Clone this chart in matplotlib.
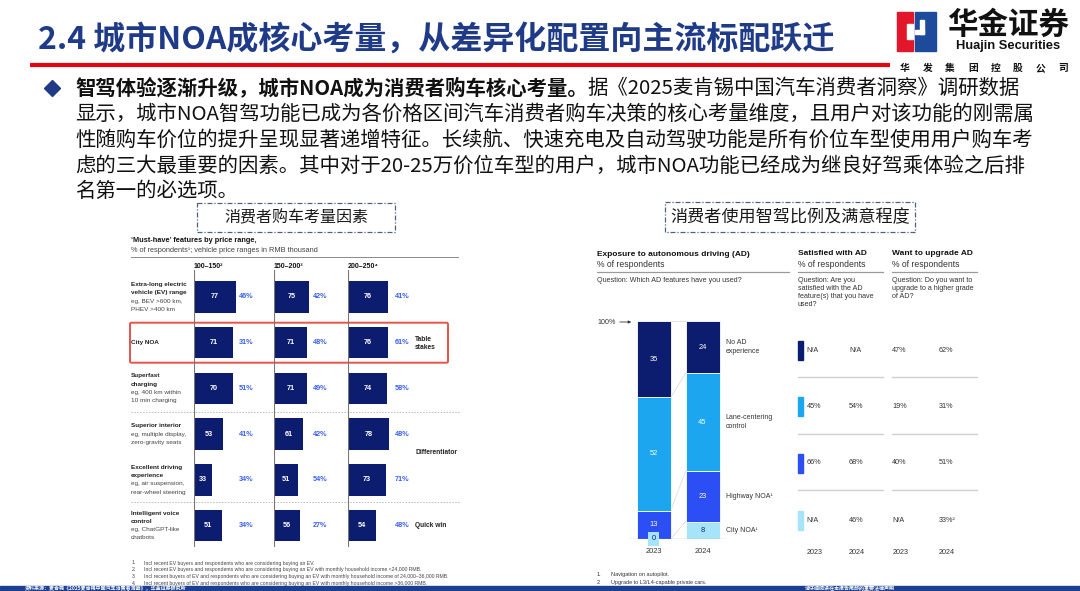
import matplotlib
matplotlib.use("Agg")
import matplotlib.pyplot as plt
from matplotlib.patches import Rectangle, FancyBboxPatch

# ---------------- data ----------------
slide_title = "2.4 城市NOA成核心考量，从差异化配置向主流标配跃迁"
bullet_lead = "智驾体验逐渐升级，城市NOA成为消费者购车核心考量。"
bullet_rest = "据《2025麦肯锡中国汽车消费者洞察》调研数据"
bullet_lines = [
    "显示，城市NOA智驾功能已成为各价格区间汽车消费者购车决策的核心考量维度，且用户对该功能的刚需属",
    "性随购车价位的提升呈现显著递增特征。长续航、快速充电及自动驾驶功能是所有价位车型使用用户购车考",
    "虑的三大最重要的因素。其中对于20-25万价位车型的用户，城市NOA功能已经成为继良好驾乘体验之后排",
    "名第一的必选项。",
]
left_box_title = "消费者购车考量因素"
right_box_title = "消费者使用智驾比例及满意程度"

left_chart_title = "‘Must-have’ features by price range,"
left_chart_sub = "% of respondents¹; vehicle price ranges in RMB thousand"
price_ranges = ["100–150²", "150–200³", "200–250⁴"]
feature_names = [["Extra-long electric", "vehicle (EV) range"], ["City NOA"],
                 ["Superfast", "charging"], ["Superior interior"],
                 ["Excellent driving", "experience"], ["Intelligent voice", "control"]]
feature_examples = [["eg, BEV >600 km,", "PHEV >400 km"], [],
                    ["eg, 400 km within", "10 min charging"],
                    ["eg, multiple display,", "zero-gravity seats"],
                    ["eg, air suspension,", "rear-wheel steering"],
                    ["eg, ChatGPT-like", "chatbots"]]
must_have_100_150 = [77, 71, 70, 53, 33, 51]
must_have_150_200 = [75, 71, 71, 61, 51, 56]
must_have_200_250 = [76, 76, 74, 78, 73, 54]
share_100_150 = ["46%", "31%", "51%", "41%", "34%", "34%"]
share_150_200 = ["42%", "48%", "49%", "42%", "54%", "27%"]
share_200_250 = ["41%", "61%", "58%", "48%", "71%", "48%"]
group_labels = ["Table\nstakes", "Differentiator", "Quick win"]
left_footnotes = [
    "Incl recent EV buyers and respondents who are considering buying an EV.",
    "Incl recent EV buyers and respondents who are considering buying an EV with monthly household income <24,000 RMB.",
    "Incl recent buyers of EV and respondents who are considering buying an EV with monthly household income of 24,000–36,000 RMB.",
    "Incl recent buyers of EV and respondents who are considering buying an EV with monthly household income >36,000 RMB.",
]

ad_years = ["2023", "2024"]
ad_features = ["City NOA¹", "Highway NOA¹", "Lane-centering\ncontrol", "No AD\nexperience"]
exposure_2023 = [0, 13, 52, 35]
exposure_2024 = [8, 23, 45, 24]
satisfied_2023 = ["N/A", "66%", "45%", "N/A"]
satisfied_2024 = ["46%", "68%", "54%", "N/A"]
upgrade_2023 = ["N/A", "40%", "19%", "47%"]
upgrade_2024 = ["33%²", "51%", "31%", "62%"]
right_footnotes = ["Navigation on autopilot.", "Upgrade to L3/L4-capable private cars."]

source_text = "资料来源：麦肯锡《2025麦肯锡中国汽车消费者洞察》，华金证券研究所"
disclaimer_text = "请仔细阅读在本报告尾部的重要法律声明"

# ---------------- style / layout ----------------
W, H, DPI = 1080, 591, 100
CJK = ["Noto Sans CJK SC", "DejaVu Sans"]
LAT = ["Liberation Sans", "DejaVu Sans"]
TITLE_BLUE = "#1F3B87"
NAVY = "#0C1D70"
SKY = "#1DA6F0"
BLUE = "#2B4EF5"
LIGHT = "#A6E5F9"
seg_colors = [LIGHT, BLUE, SKY, NAVY]
PCT_BLUE = "#3A60F0"

fig = plt.figure(figsize=(W / DPI, H / DPI), dpi=DPI)
fig.patch.set_facecolor("white")
ax0 = fig.add_axes([0, 0, 1, 1])
ax0.set_xlim(0, W)
ax0.set_ylim(H, 0)
ax0.axis("off")


def frac(x0, y0, x1, y1):
    return [x0 / W, 1 - y1 / H, (x1 - x0) / W, (y1 - y0) / H]


def T(x, y, s, size, weight="normal", color="#222222", ha="left", va="center", family=LAT, **kw):
    return ax0.text(x, y, s, fontsize=size, fontweight=weight, color=color, ha=ha, va=va,
                    family=family, **kw)


# ---------------- header ----------------
T(38, 40, slide_title, 23, "bold", TITLE_BLUE, family=CJK)
ax0.plot([30, 890], [65, 65], color="#E30613", lw=3, solid_capstyle="butt")

# logo
ax0.add_patch(Rectangle((897, 12), 16, 39, color="#E3172C"))
ax0.add_patch(Rectangle((915, 12), 21, 39, color="#1E4A9C"))
ax0.add_patch(Rectangle((907, 24), 6, 15, color="white"))
ax0.add_patch(Rectangle((915, 30), 9, 4, color="white"))
ax0.add_patch(Rectangle((920, 20), 4, 14, color="white"))
T(1008, 25, "华金证券", 22, "bold", "#111111", ha="center", family=CJK)
T(1008, 46, "Huajin Securities", 9.3, "bold", "#111111", ha="center")
for k, ch in enumerate("华发集团控股公司"):
    T(905 + k * 22.6, 68, ch, 7, "bold", "#111111", ha="center", family=CJK)

# ---------------- bullet text ----------------
ax0.plot(52, 88, marker="D", ms=8.5, color=TITLE_BLUE)
line_y = [88, 114, 140, 166, 191]
lead = T(75, line_y[0], bullet_lead, 14.7, "bold", "#111111", family=CJK)
ax0.annotate(bullet_rest, xy=(1, 0), xycoords=lead, va="bottom", ha="left",
             fontsize=14.7, color="#111111", family=CJK)
for y, s in zip(line_y[1:], bullet_lines):
    T(75, y, s, 14.7, color="#111111", family=CJK)

# dashed title boxes
for (x0, y0, x1, y1), s, fs in [((197, 203, 395, 232), left_box_title, 11.5),
                                ((665, 202, 915, 232), right_box_title, 12.3)]:
    ax0.add_patch(Rectangle((x0, y0), x1 - x0, y1 - y0, fill=False, ec="#50607F",
                            lw=0.9, ls=(0, (4, 1.5, 1, 1.5))))
    T((x0 + x1) / 2, (y0 + y1) / 2, s, fs, color="#1a1a1a", ha="center", family=CJK)

# ---------------- left panel ----------------
T(131, 240, left_chart_title, 5.3, "bold", "#111111")
T(131, 250, left_chart_sub, 5.3, color="#444444")
ax0.plot([131, 458], [257, 257], color="#8a8a8a", lw=0.7)

col_x0 = [194, 274, 348]
col_px_per_unit = [0.55, 0.47, 0.525]
share_x_px = [246, 320, 402]
row0_y, row_step = 297, 45.7
bar_top_px, bar_bot_px = 270, 547
ax_w_px = 75
must_cols = [must_have_100_150, must_have_150_200, must_have_200_250]
share_cols = [share_100_150, share_150_200, share_200_250]

for c in range(3):
    x0 = col_x0[c]
    sc = col_px_per_unit[c]
    T(x0, 267, price_ranges[c], 5.0, "bold", "#111111")
    ax = fig.add_axes(frac(x0, bar_top_px, x0 + ax_w_px, bar_bot_px))
    ax.set_xlim(0, ax_w_px / sc)
    ax.set_ylim((bar_bot_px - row0_y) / row_step, (bar_top_px - row0_y) / row_step)
    ax.axis("off")
    rows = range(len(must_cols[c]))
    ax.barh(rows, must_cols[c], height=31.5 / row_step, color=NAVY)
    ax.axvline(0, color="#777777", lw=0.8)
    for i, v in enumerate(must_cols[c]):
        ax.text(v / 2, i, str(v), ha="center", va="center", color="white",
                fontsize=5.2, fontweight="bold", family=LAT)
        ax.text((share_x_px[c] - x0) / sc, i, share_cols[c][i], ha="center", va="center",
                color=PCT_BLUE, fontsize=5.2, fontweight="bold", family=LAT, clip_on=False)

# row labels
lab_step = 8.3
for i, (names, ex) in enumerate(zip(feature_names, feature_examples)):
    lines = [(s, "bold", "#222222") for s in names] + [(s, "normal", "#444444") for s in ex]
    yc = row0_y + i * row_step
    n = len(lines)
    for k, (s, w, col) in enumerate(lines):
        T(131, yc + (k - (n - 1) / 2) * lab_step, s, 4.6, w, col)

# group labels and separators
for s, y in zip(group_labels, [343.5, 452.7, 525.7]):
    T(415, y, s, 4.8, "bold", "#222222", linespacing=1.3)
for y in [411.7, 501.7]:
    ax0.plot([131, 460], [y, y], color="#bbbbbb", lw=0.7, ls=(0, (1.5, 1.5)))

ax0.add_patch(FancyBboxPatch((130, 322.7), 318, 40, boxstyle="round,pad=0,rounding_size=1.5",
                             fill=False, ec="#E5534B", lw=1.4))

for k, s in enumerate(left_footnotes):
    y = 563 + k * 6.9
    T(131.5, y, f"{k + 1}.", 3.7, color="#444444")
    T(144.3, y, s, 3.7, color="#444444")

# ---------------- right panel ----------------
T(597, 254, "Exposure to autonomous driving (AD)", 6.0, "bold", "#111111")
T(597, 264.5, "% of respondents", 6.2, color="#333333")
ax0.plot([597, 789], [272.3, 272.3], color="#9a9a9a", lw=0.9)
T(597, 280, "Question: Which AD features have you used?", 5.1, color="#333333")

for x0, x1, t1, q in [(798, 883, "Satisfied with AD",
                       ["Question: Are you", "satisfied with the AD", "feature(s) that you have", "used?"]),
                      (892, 977, "Want to upgrade AD",
                       ["Question: Do you want to", "upgrade to a higher grade", "of AD?"])]:
    T(x0, 253.3, t1, 6.0, "bold", "#111111")
    T(x0, 264.7, "% of respondents", 6.2, color="#333333")
    ax0.plot([x0, x1], [272.3, 272.3], color="#9a9a9a", lw=0.9)
    for k, s in enumerate(q):
        T(x0, 280 + k * 8.1, s, 5.1, color="#333333")
    for y in [376.7, 434, 490.3]:
        ax0.plot([x0, x1], [y, y], color="#d0d0d0", lw=1.0)

table_y = [520, 463, 406, 350]  # bottom-up, same order as ad_features
value_x = [806.7, 849, 892.3, 939]
for i in range(len(ad_features)):
    y = table_y[i]
    ax0.add_patch(Rectangle((798, y - 9.5), 4.5, 19, color=seg_colors[i]))
    for x, col in zip(value_x, [satisfied_2023, satisfied_2024, upgrade_2023, upgrade_2024]):
        T(x, y, col[i], 5.2, color="#333333")
for x, yr in zip(value_x, ad_years + ad_years):
    T(x, 552.3, yr, 5.2, color="#333333")

# stacked bar chart
sx0, sx1, sy_top, sy_bot = 629, 726, 321, 539
c0_px, unit_px = 653.7, 48.8
axs = fig.add_axes(frac(sx0, sy_top, sx1, sy_bot))
axs.set_xlim((sx0 - c0_px) / unit_px, (sx1 - c0_px) / unit_px)
axs.set_ylim(0, 100)
axs.axis("off")
bw = 34 / unit_px
series = [exposure_2023, exposure_2024]
cums = []
for j, vals in enumerate(series):
    bottom = 0
    cum = []
    for i, v in enumerate(vals):
        axs.bar(j, v, bottom=bottom, width=bw, color=seg_colors[i], edgecolor="white", lw=0.6)
        tc = NAVY if seg_colors[i] == LIGHT else "white"
        if v > 0:
            axs.text(j, bottom + v / 2, str(v), ha="center", va="center", color=tc,
                     fontsize=5.4, family=LAT)
        else:
            axs.text(j, bottom, str(v), ha="center", va="center", color=NAVY, fontsize=5.4,
                     family=LAT, clip_on=False, zorder=5,
                     bbox=dict(boxstyle="square,pad=0.45", fc=seg_colors[i], ec="none"))
        bottom += v
        cum.append(bottom)
    cums.append(cum)
for a, b in zip(cums[0], cums[1]):
    axs.plot([bw / 2, 1 - bw / 2], [a, b], color="#dddddd", lw=0.6, zorder=0)
axs.axhline(0, color="#9a9a9a", lw=0.9, zorder=1)
for j, yr in enumerate(ad_years):
    axs.text(j, -5.8, yr, ha="center", va="center", fontsize=5.4, color="#333333",
             family=LAT, clip_on=False)
lab_x = (725.7 - c0_px) / unit_px
b = 0
for i, v in enumerate(exposure_2024):
    axs.text(lab_x, b + v / 2, ad_features[i], ha="left", va="center", fontsize=5.0,
             color="#333333", family=LAT, clip_on=False, linespacing=1.35)
    b += v

T(597, 322, "100%", 5.1, color="#333333")
ax0.annotate("", xy=(634, 322), xytext=(617, 322),
             arrowprops=dict(arrowstyle="-|>", color="#333333", lw=0.6, mutation_scale=4))

for k, s in enumerate(right_footnotes):
    y = 574.3 + k * 8
    T(597, y, f"{k + 1}.", 4.0, color="#333333")
    T(611, y, s, 4.0, color="#333333")

# ---------------- footer ----------------
ax0.add_patch(Rectangle((0, 585.5), W, 5.5, color="#1C3F91", zorder=3))
T(25, 588.3, source_text, 3.6, "bold", "white", family=CJK, zorder=4)
T(805, 588.3, disclaimer_text, 3.6, "bold", "white", family=CJK, zorder=4)

fig.savefig("out.png", dpi=DPI, facecolor="white")
